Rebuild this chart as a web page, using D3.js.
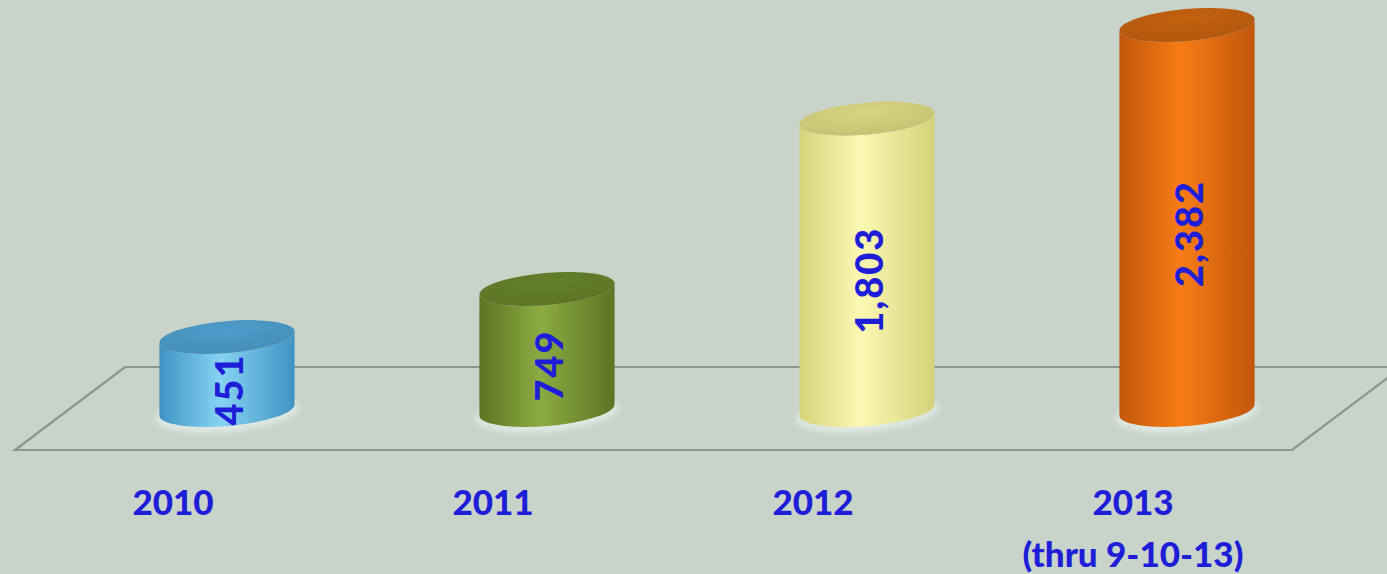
<!DOCTYPE html>
<html>
<head>
<meta charset="utf-8">
<script src="https://cdn.jsdelivr.net/npm/d3@7"></script>
<style>
  html, body { margin: 0; padding: 0; background: #c8d3ca; }
  svg { display: block; }
</style>
</head>
<body>
<svg id="chart" width="1387" height="574"></svg>
<script>
const years = ["2010", "2011", "2012", "2013"];
const values = [451, 749, 1803, 2382];
const subLabels = ["", "", "", "(thru 9-10-13)"];
const valueLabels = ["451", "749", "1,803", "2,382"];
const palettes = [
  { edge: "#3f93c4", mid: "#86d3f3", top: "#4d9ccb" },
  { edge: "#5b7523", mid: "#8cab42", top: "#64802a" },
  { edge: "#d6d27a", mid: "#fbf8b4", top: "#d8d47f" },
  { edge: "#c2560a", mid: "#f77c16", top: "#c3600e" }
];

const W = 1387, H = 574;
const svg = d3.select("#chart");
const defs = svg.append("defs");

const baseY = 410;
const x = d3.scalePoint().domain(years).range([67, 1347]).padding(0.5);
const y = d3.scaleLinear().domain([0, 2382]).range([baseY, 25]);
const rx = x.step() * 0.212, ry = 16;
const theta = -5;
const th = theta * Math.PI / 180;

// floor
const floorBackY = 367, floorFrontY = 450;
const floor = [[125, floorBackY], [1402, floorBackY], [1292, floorFrontY], [15, floorFrontY]];
svg.append("path")
  .attr("d", d3.line()(floor) + "Z")
  .attr("fill", "none")
  .attr("stroke", "#8b968f")
  .attr("stroke-width", 2.2);

// gradients
palettes.forEach((p, i) => {
  const g = defs.append("linearGradient").attr("id", "body" + i)
    .attr("x1", "0%").attr("x2", "100%").attr("y1", "0%").attr("y2", "0%");
  g.append("stop").attr("offset", "0%").attr("stop-color", p.edge);
  g.append("stop").attr("offset", "45%").attr("stop-color", p.mid);
  g.append("stop").attr("offset", "100%").attr("stop-color", p.edge);
  const t = defs.append("radialGradient").attr("id", "top" + i)
    .attr("cx", "50%").attr("cy", "30%").attr("r", "70%");
  t.append("stop").attr("offset", "0%").attr("stop-color", p.top);
  t.append("stop").attr("offset", "100%").attr("stop-color", d3.color(p.top).darker(0.25));
});

const glowF = defs.append("filter").attr("id", "glow").attr("x", "-20%").attr("y", "-50%").attr("width", "140%").attr("height", "200%");
glowF.append("feGaussianBlur").attr("stdDeviation", 3);

const bars = svg.selectAll("g.bar").data(years).join("g").attr("class", "bar");

bars.each(function(d, i) {
  const g = d3.select(this);
  const cx = x(d);
  const yb = baseY, yt = y(values[i]);
  const dx = rx * Math.cos(th), dy = rx * Math.sin(th);
  // bottom glow
  g.append("ellipse")
    .attr("cx", cx).attr("cy", yb + 3).attr("rx", rx + 4).attr("ry", ry + 3)
    .attr("transform", `rotate(${theta},${cx},${yb + 3})`)
    .attr("fill", "#e4efe9").attr("opacity", 0.8).attr("filter", "url(#glow)");
  const path = `M${cx - dx},${yt - dy} L${cx - dx},${yb - dy} ` +
    `A${rx},${ry} ${theta} 0 0 ${cx + dx},${yb + dy} ` +
    `L${cx + dx},${yt + dy} ` +
    `A${rx},${ry} ${theta} 0 1 ${cx - dx},${yt - dy} Z`;
  g.append("path").attr("d", path).attr("fill", `url(#body${i})`);
  g.append("ellipse")
    .attr("cx", cx).attr("cy", yt).attr("rx", rx).attr("ry", ry)
    .attr("transform", `rotate(${theta},${cx},${yt})`)
    .attr("fill", `url(#top${i})`);
  // value label
  const ly = y(values[i] / 2) + 16;
  g.append("text")
    .attr("transform", `translate(${cx + 1},${ly}) rotate(-90)`)
    .attr("text-anchor", "middle")
    .attr("dominant-baseline", "central")
    .attr("font-family", "Lato, 'Open Sans', sans-serif")
    .attr("font-weight", "900")
    .attr("font-size", 38)
    .attr("letter-spacing", 2)
    .attr("fill", "#1e1ed8")
    .text(valueLabels[i]);
  // category label
  const t = g.append("text")
    .attr("x", cx - 54).attr("y", 515)
    .attr("text-anchor", "middle")
    .attr("font-family", "Lato, 'Open Sans', sans-serif")
    .attr("font-weight", "900")
    .attr("font-size", 35)
    .attr("fill", "#1e1ed8");
  t.append("tspan").attr("x", cx - 54).attr("y", 515).text(d);
  if (subLabels[i]) t.append("tspan").attr("x", cx - 54).attr("y", 567).text(subLabels[i]);
});
</script>
</body>
</html>
